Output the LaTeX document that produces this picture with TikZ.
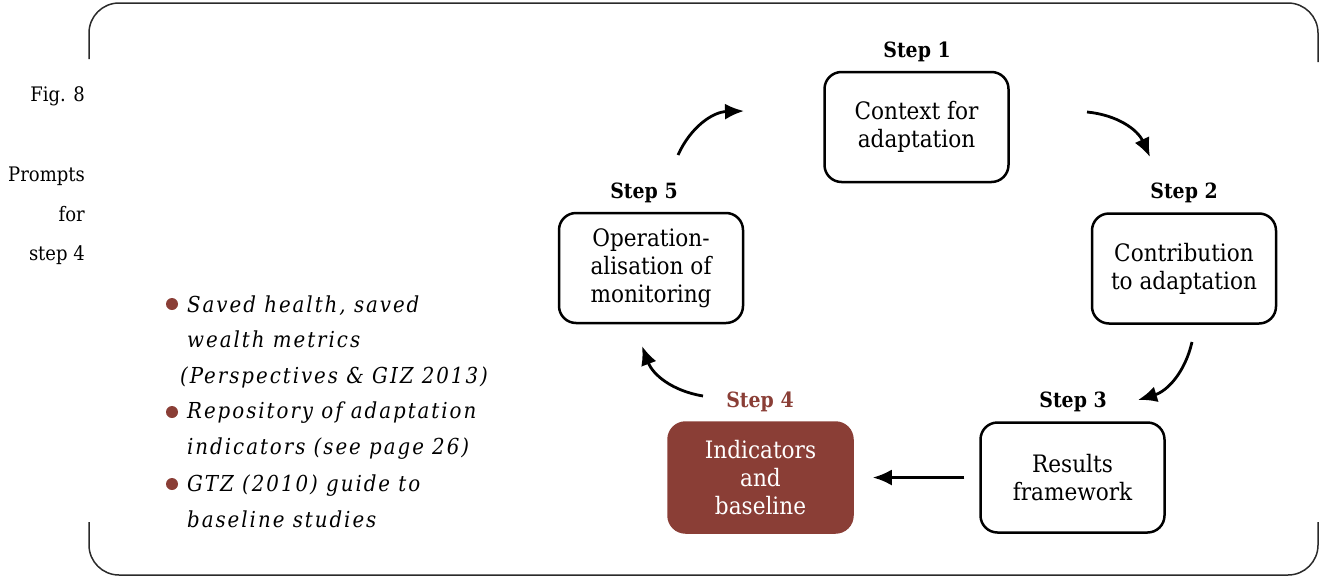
\documentclass[tikz,border=0pt]{standalone}
\usepackage{fontspec}
\setmainfont{DejaVu Serif Condensed}
\newfontfamily\promptfont{DejaVu Serif Condensed}[LetterSpace=9]
\usetikzlibrary{arrows.meta}
\definecolor{brick}{HTML}{8A3E36}
\definecolor{framegray}{HTML}{2A2A2A}
\begin{document}
\begin{tikzpicture}[x=1pt,y=-1pt,
  stepbox/.style={draw, line width=2.5pt, rounded corners=17pt, minimum width=184pt, minimum height=110pt, align=center, inner sep=0pt, font=\fontsize{24}{28}\selectfont},
  steplabel/.style={font=\bfseries\fontsize{21}{24}\selectfont},
  flow/.style={-{Latex[length=19pt,width=16pt]}, line width=2.8pt},
  side/.style={anchor=base east, inner sep=0pt, font=\fontsize{20}{22}\selectfont},
  prompt/.style={anchor=base west, inner sep=0pt, font=\promptfont\itshape\fontsize{22}{26}\selectfont},
  dot/.style={circle, fill=brick, inner sep=0pt, minimum size=12pt},
  frame/.style={draw=framegray, line width=1.5pt, rounded corners=30pt}]
\useasboundingbox (0,0) rectangle (1320,576);
% frame
\draw[frame] (89,59) -- (89,3) -- (1318,3) -- (1318,62);
\draw[frame] (89,522) -- (89,575) -- (1318,575) -- (1318,522);
% side text
\node[side] (fig) at (85,101) {Fig. 8};
\node[side] (pr1) at (85,181) {Prompts};
\node[side] (pr2) at (85,221) {for};
\node[side] (pr3) at (85,260) {step 4};
% boxes
\node[stepbox] (s1) at (916.5,127) {Context for\\adaptation};
\node[stepbox] (s2) at (1184,268.5) {Contribution\\to adaptation};
\node[stepbox] (s3) at (1072.5,477.5) {Results\\framework};
\node[stepbox, fill=brick, draw=brick, text=white] (s4) at (760.5,477.5) {Indicators\\and\\baseline};
\node[stepbox] (s5) at (651,268) {Operation-\\alisation of\\monitoring};
% labels
\node[steplabel] (l1) at (917,52) {Step 1};
\node[steplabel] (l2) at (1184,193) {Step 2};
\node[steplabel] (l3) at (1073,402) {Step 3};
\node[steplabel, text=brick] (l4) at (760,402) {Step 4};
\node[steplabel] (l5) at (644,193) {Step 5};
% arrows
\coordinate (a1s) at (678,155); \coordinate (a1e) at (744,111);
\coordinate (a2s) at (1087,112); \coordinate (a2e) at (1150,157);
\coordinate (a3s) at (1192,342); \coordinate (a3e) at (1138,400);
\coordinate (a5s) at (703,396); \coordinate (a5e) at (642,346);
\draw[flow] (a1s) to[bend left=32] (a1e);
\draw[flow] (a2s) to[bend left=30] (a2e);
\draw[flow] (a3s) to[bend left=30] (a3e);
\draw[flow] ([xshift=-15pt]s3.west) -- ([xshift=19pt]s4.east);
\draw[flow] (a5s) to[bend left=30] (a5e);
% prompts
\node[dot] (d1) at (172,304) {};
\node[prompt] (p1a) at (187,312) {Saved health, saved};
\node[prompt] (p1b) at (187,347) {wealth metrics};
\node[prompt] (p1c) at (180,383) {(Perspectives \& GIZ 2013)};
\node[dot] (d2) at (172,412) {};
\node[prompt] (p2a) at (187,418) {Repository of adaptation};
\node[prompt] (p2b) at (187,454) {indicators (see page 26)};
\node[dot] (d3) at (172,484) {};
\node[prompt] (p3a) at (187,491) {GTZ (2010) guide to};
\node[prompt] (p3b) at (187,527) {baseline studies};
\end{tikzpicture}
\end{document}
